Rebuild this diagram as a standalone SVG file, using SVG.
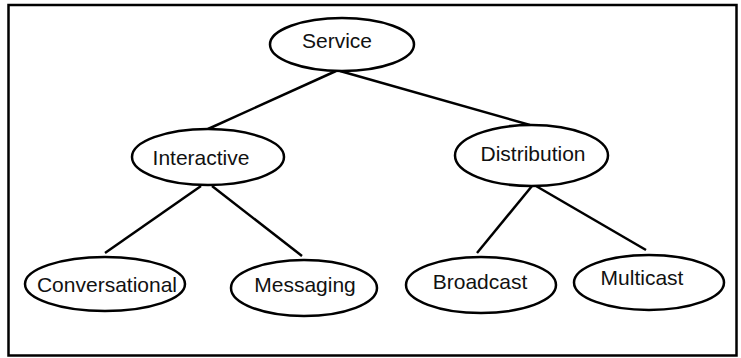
<svg xmlns="http://www.w3.org/2000/svg" width="741" height="358" viewBox="0 0 741 358">
<style>
.n ellipse{fill:#fff;stroke:#000;stroke-width:2.5}
.n text{font-family:"Liberation Sans",Arial,sans-serif;font-size:21px;fill:#111;text-anchor:middle}
#edges line{stroke:#000;stroke-width:2.5}
</style>
<rect x="8.5" y="5" width="728" height="350.5" fill="#fff" stroke="#000" stroke-width="2.5"/>
<g id="edges">
<line x1="336" y1="71" x2="208" y2="129"/>
<line x1="340" y1="71" x2="530" y2="125"/>
<line x1="201" y1="186" x2="105" y2="253"/>
<line x1="212" y1="186" x2="302" y2="256"/>
<line x1="532" y1="186" x2="477" y2="253"/>
<line x1="536" y1="186" x2="646" y2="250"/>
</g>
<g id="service" class="n"><ellipse cx="342" cy="44.5" rx="72" ry="26.5"/><text x="337" y="48">Service</text></g>
<g id="interactive" class="n"><ellipse cx="208" cy="157" rx="76" ry="28"/><text x="201" y="165">Interactive</text></g>
<g id="distribution" class="n"><ellipse cx="531.5" cy="155.5" rx="76.5" ry="30.5"/><text x="533" y="161">Distribution</text></g>
<g id="conversational" class="n"><ellipse cx="105" cy="284" rx="80" ry="27"/><text x="107" y="292">Conversational</text></g>
<g id="messaging" class="n"><ellipse cx="304" cy="288" rx="73" ry="28"/><text x="305" y="292">Messaging</text></g>
<g id="broadcast" class="n"><ellipse cx="481" cy="285" rx="75" ry="28"/><text x="480" y="289">Broadcast</text></g>
<g id="multicast" class="n"><ellipse cx="649" cy="282.5" rx="75" ry="27.5"/><text x="642" y="285">Multicast</text></g>
</svg>
